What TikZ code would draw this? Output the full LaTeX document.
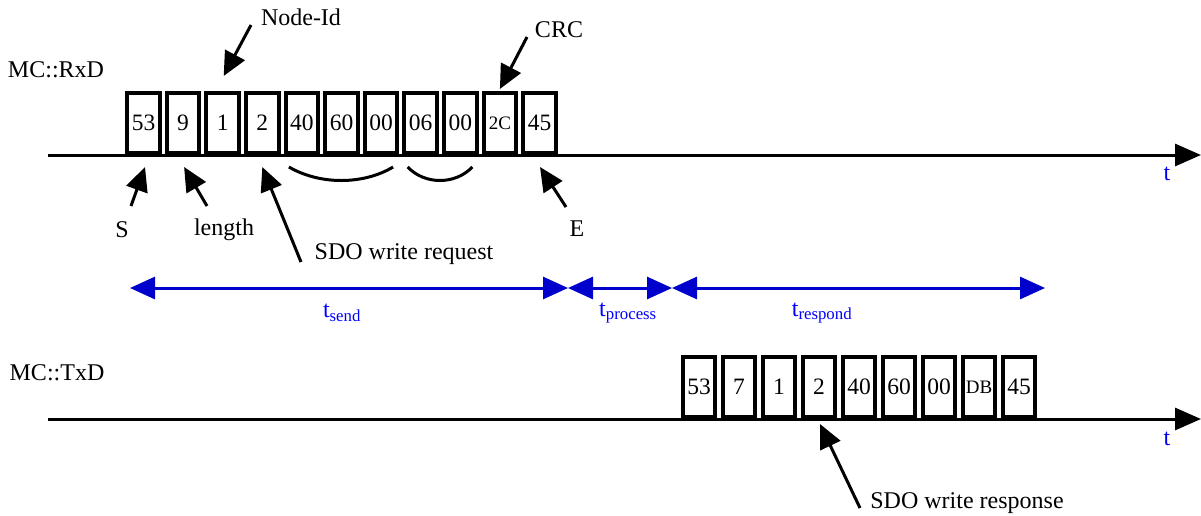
\documentclass[tikz,border=0pt]{standalone}
\usepackage{fontspec}
\setmainfont{Liberation Serif}
\usetikzlibrary{arrows.meta,calc}
\definecolor{spanblue}{RGB}{0,0,204}
\definecolor{textblue}{RGB}{0,0,255}
\newcommand{\hexsmall}[1]{{\fontsize{19}{22}\selectfont #1}}
\tikzset{
  bytebox/.style={draw, line width=4pt, fill=white, minimum width=32.5pt,
    minimum height=60pt, inner sep=0pt, anchor=south,
    font=\fontsize{23.5}{27}\selectfont},
  lbl/.style={font=\fontsize{24}{28}\selectfont, inner sep=0pt},
  tlbl/.style={lbl, text=textblue},
  ptr/.style={line width=3pt, -{Triangle[length=24pt,width=22pt]}},
  axis/.style={line width=3pt, -{Triangle[length=26pt,width=22pt]}},
  span/.style={draw=spanblue, line width=3pt,
    {Triangle[length=25pt,width=22pt]}-{Triangle[length=25pt,width=22pt]}},
  brace/.style={line width=3pt},
}
\begin{document}
\begin{tikzpicture}[x=1pt,y=-1pt]
\useasboundingbox (0,0) rectangle (1201,515);

% ---------- receive line ----------
\node[lbl] (rxd) at (56,70) {MC::RxD};
\coordinate (rx0) at (48,155);
\coordinate (rx1) at (1201,155);
\draw[axis] (rx0) -- (rx1);
\node[tlbl] (rxt) at (1167,174) {t};

\foreach \v [count=\i] in {53,9,1,2,40,60,00,06,00,{\hexsmall{2C}},45}
  \node[bytebox] (r\i) at ({143.5+39.6*(\i-1)},155) {\v};

% data groups below the request bytes
\draw[brace] ($(r5.south)+(-13,12)$) .. controls ($(r5.south)+(18,30)$) and ($(r7.south)+(-18,30)$) .. ($(r7.south)+(12,12)$);
\draw[brace] ($(r8.south)+(-13,12)$) .. controls ($(r8.south)+(4,30)$) and ($(r9.south)+(-5,30)$) .. ($(r9.south)+(12,12)$);

% labels of the request frame
\node[lbl] (nodeid) at (301,17) {Node-Id};
\coordinate (nodeidT) at (251,25);
\draw[ptr] (nodeidT) -- ($(r3.north)+(1,-15)$);

\node[lbl] (crc) at (559,30) {CRC};
\coordinate (crcT) at (527,37);
\draw[ptr] (crcT) -- ($(r10.north)+(0,-2)$);

\node[lbl] (start) at (122,230) {S};
\coordinate (startT) at (131,206);
\draw[ptr] (startT) -- ($(r1.south)+(1.5,12)$);

\node[lbl] (len) at (224,230) {length};
\coordinate (lenT) at (207,206);
\draw[ptr] (lenT) -- ($(r2.south)+(1,12)$);

\node[lbl] (req) at (404,254) {SDO write request};
\coordinate (reqT) at (301,262);
\draw[ptr] (reqT) -- ($(r4.south)+(0,12)$);

\node[lbl] (stop) at (577,229) {E};
\coordinate (stopT) at (566,207);
\draw[ptr] (stopT) -- ($(r11.south)+(0.5,12)$);

% ---------- timing ----------
\coordinate (ts0) at (130,288);
\coordinate (ts1) at (568,288);
\coordinate (ts2) at (672,288);
\coordinate (ts3) at (1045,288);
\draw[span] (ts0) -- (ts1);
\draw[span] (ts1) -- (ts2);
\draw[span] (ts2) -- (ts3);
\node[tlbl] (tsend) at (342,313) {t\textsubscript{send}};
\node[tlbl] (tproc) at (628,313) {t\textsubscript{process}};
\node[tlbl] (tresp) at (822,313) {t\textsubscript{respond}};

% ---------- transmit line ----------
\node[lbl] (txd) at (57,373) {MC::TxD};
\coordinate (tx0) at (48,419);
\coordinate (tx1) at (1201,419);
\draw[axis] (tx0) -- (tx1);
\node[tlbl] (txt) at (1167,439) {t};

\foreach \v [count=\i] in {53,7,1,2,40,60,00,{\hexsmall{DB}},45}
  \node[bytebox] (b\i) at ({699+40*(\i-1)},419) {\v};

\node[lbl] (resp) at (967,503) {SDO write response};
\coordinate (respT) at (860,508);
\draw[ptr] (respT) -- ($(b4.south)+(1,5)$);
\end{tikzpicture}
\end{document}
